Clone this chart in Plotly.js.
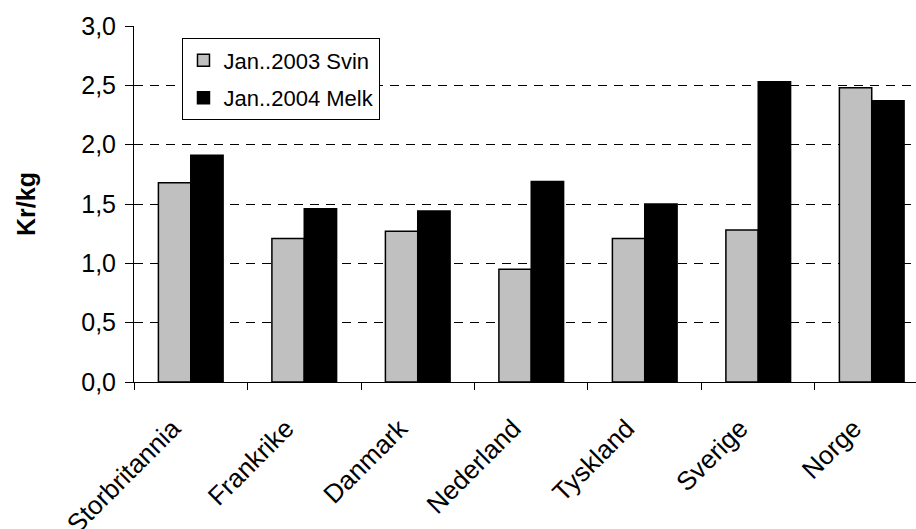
<!DOCTYPE html>
<html>
<head>
<meta charset="utf-8">
<script src="https://cdn.plot.ly/plotly-3.0.1.min.js"></script>
<style>html,body{margin:0;padding:0;background:#fff;}#chart{width:916px;height:529px;}</style>
</head>
<body>
<div id="chart"></div>
<script>
const categories = ["Storbritannia", "Frankrike", "Danmark", "Nederland", "Tyskland", "Sverige", "Norge"];
const svin2003 = [1.68, 1.21, 1.27, 0.95, 1.21, 1.28, 2.48];
const melk2004 = [1.91, 1.46, 1.44, 1.69, 1.50, 2.53, 2.37];
const seriesNames = ["Jan..2003 Svin", "Jan..2004 Melk"];
const yTickVals = [0, 0.5, 1, 1.5, 2, 2.5, 3];
const yTickText = ["0,0", "0,5", "1,0", "1,5", "2,0", "2,5", "3,0"];

const font = "Arial, 'Liberation Sans', sans-serif";
const traces = [
  {type: "bar", name: seriesNames[0], x: categories, y: svin2003, legendgroup: "a",
   marker: {color: "#C0C0C0", line: {color: "#000", width: 1.5}}},
  {type: "bar", name: seriesNames[1], x: categories, y: melk2004, legendgroup: "b",
   marker: {color: "#000000", line: {color: "#000", width: 1.5}}}
];
const layout = {
  width: 916, height: 529,
  margin: {l: 134, r: 0, t: 26, b: 147},
  paper_bgcolor: "#fff", plot_bgcolor: "#fff",
  font: {family: font, color: "#000", size: 22},
  barmode: "group", bargap: 0.43, bargroupgap: 0,
  showlegend: true,
  legend: {x: 0.062, y: 0.965, xanchor: "left", yanchor: "top",
           bgcolor: "#fff", bordercolor: "#000", borderwidth: 1,
           traceorder: "grouped", tracegroupgap: 6,
           font: {family: font, size: 22, color: "#000"}, itemwidth: 30},
  xaxis: {type: "category", range: [-0.5, 6.39], showgrid: false,
          showline: true, linecolor: "#000", linewidth: 1,
          ticks: "outside", tickson: "boundaries", ticklen: 7, tickcolor: "#000",
          tickangle: -45, ticklabelstandoff: 20, ticklabelshift: -18,
          tickfont: {family: font, size: 26, color: "#000"},
          zeroline: false, fixedrange: true},
  yaxis: {range: [0, 3], tickvals: yTickVals, ticktext: yTickText,
          showgrid: true, gridcolor: "#000", griddash: "9px,7px", gridwidth: 1,
          showline: true, linecolor: "#000", linewidth: 1,
          ticks: "outside", ticklen: 8, tickcolor: "#000", ticklabelstandoff: 4,
          tickfont: {family: font, size: 25, color: "#000"},
          zeroline: false,
          title: {text: "<b>Kr/kg</b>", font: {family: font, size: 25, color: "#000"}, standoff: 38}}
};
Plotly.newPlot("chart", traces, layout, {displayModeBar: false, staticPlot: true});
</script>
</body>
</html>
